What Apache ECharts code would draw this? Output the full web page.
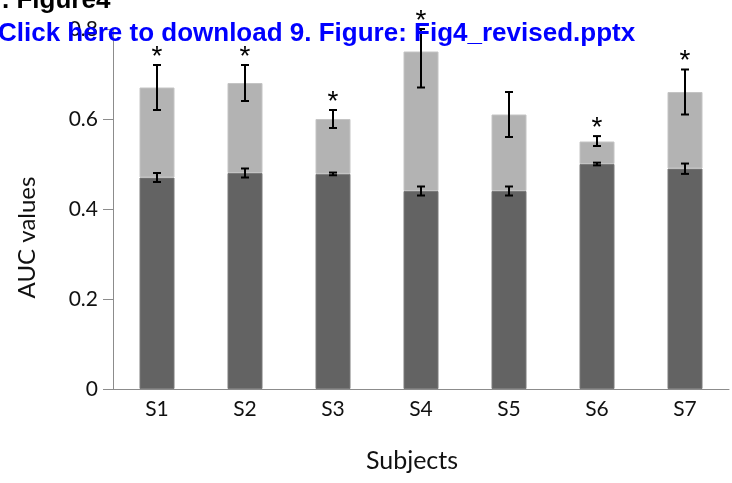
<!DOCTYPE html>
<html style="height: 100%;">
  <head>
    <meta charset="utf-8" />
  </head>
  <body style="height: 100%; margin: 0; background: #fff;">
    <div id="container" style="width: 732px; height: 483px;"></div>
    <script src="https://cdn.jsdelivr.net/npm/echarts@6/dist/echarts.min.js"></script>
    <script type="text/javascript">
      var subjects = ["S1", "S2", "S3", "S4", "S5", "S6", "S7"];
      // lower (dark) part of each bar and its error range
      var baseAUC = [0.47, 0.48, 0.478, 0.44, 0.44, 0.5, 0.49];
      var baseLow = [0.46, 0.47, 0.475, 0.43, 0.43, 0.497, 0.478];
      var baseHigh = [0.48, 0.49, 0.481, 0.45, 0.45, 0.503, 0.501];
      // full bar height (light top) and its error range
      var totalAUC = [0.67, 0.68, 0.6, 0.75, 0.61, 0.55, 0.66];
      var totalLow = [0.62, 0.64, 0.58, 0.67, 0.56, 0.54, 0.61];
      var totalHigh = [0.72, 0.72, 0.62, 0.8, 0.66, 0.562, 0.71];
      var stars = [1, 1, 1, 1, 0, 1, 1];
      var yTicks = [0, 0.2, 0.4, 0.6, 0.8];

      var topPart = totalAUC.map(function (v, i) {
        return +(v - baseAUC[i]).toFixed(3);
      });

      var labelFont = "Lato";

      function errorSeries(low, high, withStars) {
        return {
          type: "custom",
          z: 10,
          silent: true,
          data: subjects.map(function (s, i) {
            return [i, low[i], high[i], withStars ? stars[i] : 0];
          }),
          encode: { x: 0, y: [1, 2] },
          renderItem: function (params, api) {
            var x = api.value(0);
            var lo = api.coord([x, api.value(1)]);
            var hi = api.coord([x, api.value(2)]);
            var cap = 4;
            var st = { stroke: "#000", lineWidth: 2 };
            var kids = [
              { type: "line", shape: { x1: hi[0], y1: hi[1], x2: lo[0], y2: lo[1] }, style: st },
              { type: "line", shape: { x1: hi[0] - cap, y1: hi[1], x2: hi[0] + cap, y2: hi[1] }, style: st },
              { type: "line", shape: { x1: lo[0] - cap, y1: lo[1], x2: lo[0] + cap, y2: lo[1] }, style: st },
            ];
            if (api.value(3)) {
              kids.push({
                type: "text",
                style: {
                  text: "*",
                  x: hi[0],
                  y: hi[1] - 8,
                  align: "center",
                  verticalAlign: "middle",
                  font: '28px "Liberation Sans"',
                  fill: "#000",
                },
              });
            }
            return { type: "group", children: kids };
          },
        };
      }

      var myChart = echarts.init(document.getElementById("container"));
      var option = {
        animation: false,
        backgroundColor: "#fff",
        grid: { left: 113, right: 3, top: 29, bottom: 94 },
        xAxis: {
          type: "category",
          data: subjects,
          name: "Subjects",
          nameLocation: "middle",
          nameGap: 59,
          nameTextStyle: { fontFamily: labelFont, fontSize: 25, color: "#111", padding: [0, 18, 0, 0] },
          axisLine: { lineStyle: { color: "#8c8c8c", width: 1 } },
          axisTick: { length: 8, lineStyle: { color: "#8c8c8c" } },
          axisLabel: { fontFamily: labelFont, fontSize: 21, color: "#111", margin: 10 },
        },
        yAxis: {
          type: "value",
          min: 0,
          max: 0.8,
          interval: 0.2,
          name: "AUC values",
          nameLocation: "middle",
          nameGap: 74,
          nameRotate: 90,
          nameTextStyle: { fontFamily: labelFont, fontSize: 24, color: "#111", padding: [0, 57, 0, 0] },
          axisLine: { show: true, lineStyle: { color: "#8c8c8c", width: 1 } },
          axisTick: { show: true, length: 10, lineStyle: { color: "#8c8c8c" } },
          splitLine: { show: false },
          axisLabel: {
            fontFamily: labelFont,
            fontSize: 21,
            color: "#111",
            margin: 15,
            formatter: function (v) {
              return yTicks.indexOf(+v.toFixed(1)) >= 0 && v !== 0 ? v.toFixed(1) : "0";
            },
          },
        },
        series: [
          {
            type: "bar",
            stack: "auc",
            barWidth: 35,
            data: baseAUC,
            itemStyle: { color: "#636363", borderColor: "#7a7a7a", borderWidth: 1 },
          },
          {
            type: "bar",
            stack: "auc",
            barWidth: 35,
            data: topPart,
            itemStyle: { color: "#b3b3b3", borderColor: "#c4c4c4", borderWidth: 1 },
          },
          errorSeries(baseLow, baseHigh, false),
          errorSeries(totalLow, totalHigh, true),
        ],
        graphic: [
          {
            type: "text",
            z: 100,
            x: 2,
            y: 1,
            style: { text: ". Figure4", font: 'bold 26px "Liberation Sans"', fill: "#000", verticalAlign: "middle" },
          },
          {
            type: "text",
            z: 100,
            x: -2,
            y: 34,
            style: {
              text: "Click here to download 9. Figure: Fig4_revised.pptx",
              font: 'bold 26px "Liberation Sans"',
              fill: "#0000ff",
              verticalAlign: "middle",
            },
          },
        ],
      };
      myChart.setOption(option);
    </script>
  </body>
</html>
